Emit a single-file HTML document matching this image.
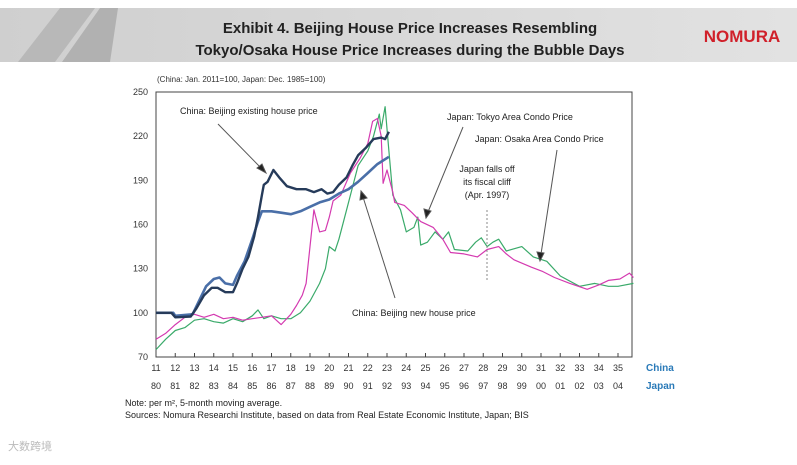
<!DOCTYPE html>
<html><head><meta charset="utf-8"><style>
body{margin:0;width:797px;height:460px;background:#fff;overflow:hidden;font-family:"Liberation Sans",sans-serif}
</style></head><body>
<svg width="797" height="460" xmlns="http://www.w3.org/2000/svg" font-family="Liberation Sans, sans-serif">
<defs><linearGradient id="hg" x1="0" x2="1"><stop offset="0" stop-color="#cfcfcf"/><stop offset="1" stop-color="#e2e2e2"/></linearGradient></defs>
<rect x="0" y="8" width="797" height="54" fill="url(#hg)"/>
<polygon points="18,62 60,8 95,8 55,62" fill="#b8b8b8"/>
<polygon points="62,62 100,8 118,8 110,62" fill="#a9a9a9" opacity="0.8"/>
<text x="410" y="33" text-anchor="middle" font-size="15" font-weight="bold" fill="#222">Exhibit 4. Beijing House Price Increases Resembling</text>
<text x="410" y="55" text-anchor="middle" font-size="15" font-weight="bold" fill="#222">Tokyo/Osaka House Price Increases during the Bubble Days</text>
<text x="742" y="42" text-anchor="middle" font-size="17" font-weight="bold" fill="#d0202a">NOMURA</text>
<text x="157" y="82" font-size="8" fill="#333">(China: Jan. 2011=100, Japan: Dec. 1985=100)</text>
<rect x="156" y="92" width="476" height="265" fill="none" stroke="#444" stroke-width="1"/>
<g id="axes"></g>
<g id="series"></g>
<line x1="487" y1="210" x2="487" y2="282" stroke="#888" stroke-dasharray="2,2"/>
<g font-size="9" fill="#222">
<text x="180" y="114">China: Beijing existing  house price</text>
<text x="447" y="120">Japan: Tokyo Area Condo Price</text>
<text x="475" y="142">Japan: Osaka Area Condo Price</text>
<text x="487" y="172" text-anchor="middle">Japan falls off</text>
<text x="487" y="185" text-anchor="middle">its fiscal cliff</text>
<text x="487" y="198" text-anchor="middle">(Apr. 1997)</text>
<text x="352" y="316">China: Beijing new house price</text>
</g>
<g stroke="#555" stroke-width="1" fill="#222">
<line x1="218" y1="124" x2="262" y2="169"/><polygon points="266,173 257,168 262,164"/>
<line x1="463" y1="127" x2="428" y2="212"/><polygon points="426,218 424,209 431,211"/>
<line x1="557" y1="150" x2="541" y2="254"/><polygon points="540,261 537,252 544,253"/>
<line x1="395" y1="298" x2="363" y2="197"/><polygon points="361,191 360,200 367,198"/>
</g>
<text x="646" y="371" font-size="10" font-weight="bold" fill="#2a7ab8">China</text>
<text x="646" y="389" font-size="10" font-weight="bold" fill="#2a7ab8">Japan</text>
<text x="125" y="406" font-size="9" fill="#222">Note: per m², 5-month moving average.</text>
<text x="125" y="418" font-size="9" fill="#222">Sources: Nomura Researchi Institute, based on data from Real Estate Economic Institute, Japan; BIS</text>
<text x="8" y="450" font-size="11" fill="#bbb">大数跨境</text>
</svg>
<script>
const yTicks=[70,100,130,160,190,220,250];
const chinaLabels=["11","12","13","14","15","16","17","18","19","20","21","22","23","24","25","26","27","28","29","30","31","32","33","34","35"];
const japanLabels=["80","81","82","83","84","85","86","87","88","89","90","91","92","93","94","95","96","97","98","99","00","01","02","03","04"];
const chinaExisting=[[0,100],[0.8,100],[1.0,97],[1.8,97.5],[2.1,103],[2.5,112],[2.9,117],[3.2,117],[3.6,114],[4.0,114],[4.2,120],[4.5,130],[4.8,138],[5.1,152],[5.3,165],[5.5,180],[5.6,187],[5.8,189],[6.1,197],[6.4,192],[6.8,186],[7.3,184],[7.8,184],[8.2,182],[8.6,184],[8.9,181],[9.2,182],[9.5,187],[9.9,192],[10.2,200],[10.5,207],[10.9,212],[11.3,218],[11.7,219],[11.9,218],[12.1,223]];
const chinaNew=[[0,100],[0.9,100],[1.0,98],[1.9,99],[2.2,107],[2.6,118],[3.0,123],[3.3,124],[3.6,120],[4.0,119],[4.2,125],[4.6,135],[5.0,150],[5.3,162],[5.5,169],[6.0,169],[6.5,168],[7.0,167],[7.5,169],[8.0,172],[8.5,175],[9.0,177],[9.5,181],[10.0,184],[10.5,189],[11.0,195],[11.5,201],[12.1,206]];
const tokyo=[[0,82],[0.5,86],[1,92],[1.5,97],[2,99],[2.5,97],[3,99],[3.5,96],[4,97],[4.5,95],[5,96],[5.5,97],[6,98],[6.5,92],[7,99],[7.3,105],[7.6,112],[7.8,120],[8.0,145],[8.2,170],[8.5,155],[8.8,156],[9.0,165],[9.2,176],[9.6,180],[10.1,195],[10.6,205],[11.0,215],[11.25,230],[11.5,232],[11.7,220],[11.8,188],[12.0,197],[12.3,182],[12.4,175],[12.9,173],[13.3,168],[13.75,162],[14.4,158],[14.9,150],[15.3,141],[16.0,140],[16.7,138],[17.2,143],[17.8,145],[18.2,140],[18.6,136],[19.5,131],[20.1,128],[20.7,124],[21.5,120],[22.4,116],[23.0,119],[23.5,122],[24.1,123],[24.6,127],[24.8,124]];
const osaka=[[0,75],[0.5,82],[1,88],[1.5,90],[2,95],[2.5,96],[3,94],[3.5,93],[4,96],[4.5,94],[5,98],[5.3,102],[5.6,96],[6,98],[6.5,96],[7,96],[7.5,100],[8.0,108],[8.5,120],[8.8,130],[9.0,145],[9.3,142],[9.5,150],[9.9,170],[10.5,200],[11.0,210],[11.3,220],[11.6,235],[11.7,225],[11.9,240],[12.1,210],[12.3,180],[12.7,170],[13.0,155],[13.4,158],[13.6,165],[13.75,146],[14.1,148],[14.5,155],[14.9,150],[15.2,155],[15.5,143],[16.2,142],[16.6,148],[16.9,151],[17.2,145],[17.5,148],[17.8,150],[18.2,142],[19.0,145],[19.6,138],[20.3,135],[21.0,125],[22.0,118],[22.8,120],[23.5,118],[24.0,118],[24.8,120]];
const X=t=>156+t*19.25, Y=v=>357-(v-70)*265/180;
const NS="http://www.w3.org/2000/svg";
const ax=document.getElementById('axes'), sg=document.getElementById('series');
function mk(tag,attrs,parent,txt){const e=document.createElementNS(NS,tag);for(const k in attrs)e.setAttribute(k,attrs[k]);if(txt!==undefined)e.textContent=txt;parent.appendChild(e);return e;}
yTicks.forEach(v=>{
 const t=mk('text',{x:148,y:Y(v)+3,'text-anchor':'end','font-size':9,fill:'#333'},ax,v);
 
 
});
chinaLabels.forEach((l,i)=>{
 const tk=mk('line',{x1:X(i),x2:X(i),y1:357,y2:353,stroke:'#444'},ax);
 
 
 const t=mk('text',{x:X(i),y:371,'text-anchor':'middle','font-size':9,fill:'#333'},ax,l);
 
 
});
japanLabels.forEach((l,i)=>{
 const t=mk('text',{x:X(i),y:389,'text-anchor':'middle','font-size':9,fill:'#333'},ax,l);
 
 
});
function line(data,color,w,name){
 const p=mk('polyline',{points:data.map(d=>X(d[0]).toFixed(1)+','+Y(d[1]).toFixed(1)).join(' '),fill:'none',stroke:color,'stroke-width':w,'stroke-linejoin':'round'},sg);
 
 
}
line(osaka,'#3aaa6a',1.2,'osaka-line');
line(tokyo,'#d43ab0',1.2,'tokyo-line');
line(chinaNew,'#4a6fa8',2.6,'china-new-line');
line(chinaExisting,'#263b5a',2.4,'china-existing-line');
</script>
</body></html>
